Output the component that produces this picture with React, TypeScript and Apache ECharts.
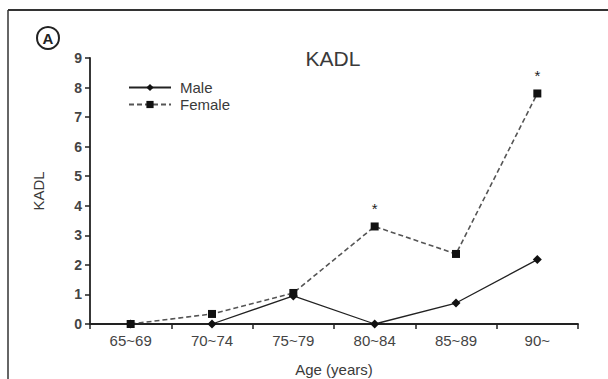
import React, { useEffect, useRef } from "react";
import * as echarts from "echarts";

const categories = ["65~69", "70~74", "75~79", "80~84", "85~89", "90~"];
const maleValues = [0, 0, 0.95, 0, 0.71, 2.18];
const femaleValues = [0, 0.34, 1.05, 3.3, 2.37, 7.8];
const starIndex = [3, 5];
const yTicks = [0, 1, 2, 3, 4, 5, 6, 7, 8, 9];

export default function App() {
  const ref = useRef<HTMLDivElement>(null);
  useEffect(() => {
    const chart = echarts.init(ref.current!, null, { renderer: "svg" });
    const font = "Liberation Sans, Arial, sans-serif";
    const txt = "#3a3a3a";
    chart.setOption({
      animation: false,
      backgroundColor: "#fff",
      title: {
        text: "KADL",
        left: 333,
        top: 48,
        padding: 0,
        textAlign: "center",
        textStyle: { fontFamily: font, fontSize: 21, fontWeight: "normal", color: txt },
      },
      legend: {
        orient: "vertical",
        left: 128,
        top: 80,
        padding: 0,
        itemWidth: 42,
        itemHeight: 9,
        itemGap: 2,
        textStyle: { fontFamily: font, fontSize: 15, color: txt, padding: [0, 0, 0, 4] },
        data: ["Male", "Female"],
      },
      grid: { left: 90, right: 30, top: 58, bottom: 55, containLabel: false, outerBoundsMode: "none" },
      xAxis: {
        type: "category",
        data: categories,
        boundaryGap: true,
        name: "Age (years)",
        nameLocation: "middle",
        nameGap: 38,
        nameTextStyle: { fontFamily: font, fontSize: 15, color: txt },
        axisLine: { lineStyle: { color: "#222", width: 1.8 } },
        axisTick: { show: true, length: 5, inside: false, lineStyle: { color: "#222", width: 1.5 } },
        axisLabel: { fontFamily: font, fontSize: 15, color: "#444", margin: 9 },
      },
      yAxis: {
        type: "value",
        min: 0,
        max: 9,
        interval: 1,
        name: "KADL",
        nameLocation: "middle",
        nameGap: 44,
        nameTextStyle: { fontFamily: font, fontSize: 15, color: txt },
        axisLine: { show: true, lineStyle: { color: "#222", width: 1.8 } },
        axisTick: { show: true, length: 5, lineStyle: { color: "#222", width: 1.5 } },
        axisLabel: {
          fontFamily: font,
          fontSize: 14,
          fontWeight: "bold",
          color: "#444",
          margin: 8,
          formatter: (v: number) => (yTicks.includes(v) ? String(v) : ""),
        },
        splitLine: { show: false },
      },
      series: [
        {
          name: "Male",
          type: "line",
          data: maleValues,
          symbol: "diamond",
          symbolSize: 9,
          itemStyle: { color: "#111" },
          lineStyle: { color: "#222", width: 1.3, type: "solid" },
          z: 3,
        },
        {
          name: "Female",
          type: "line",
          data: femaleValues.map((v, i) =>
            starIndex.includes(i)
              ? {
                  value: v,
                  label: {
                    show: true,
                    formatter: "*",
                    position: "top",
                    distance: 6,
                    fontSize: 15,
                    fontFamily: font,
                    color: "#222",
                  },
                }
              : v
          ),
          symbol: "rect",
          symbolSize: 8,
          itemStyle: { color: "#111" },
          lineStyle: { color: "#555", width: 1.6, type: [5, 3] },
          z: 2,
        },
      ],
      graphic: [
        { type: "line", shape: { x1: 8, y1: 10, x2: 608, y2: 10 }, style: { stroke: "#333", lineWidth: 2 } },
        { type: "line", shape: { x1: 8, y1: 10, x2: 8, y2: 379 }, style: { stroke: "#333", lineWidth: 1.5 } },
        { type: "circle", shape: { cx: 48, cy: 38, r: 11 }, style: { fill: "none", stroke: "#222", lineWidth: 2 } },
        {
          type: "text",
          x: 48,
          y: 38,
          style: {
            text: "A",
            fontFamily: font,
            fontSize: 15,
            fontWeight: "bold",
            fill: "#222",
            align: "center",
            verticalAlign: "middle",
          },
        },
      ],
    });
    return () => chart.dispose();
  }, []);
  return (
    <div
      ref={ref}
      style={{ position: "fixed", left: 0, top: 0, width: 608, height: 379 }}
    />
  );
}
